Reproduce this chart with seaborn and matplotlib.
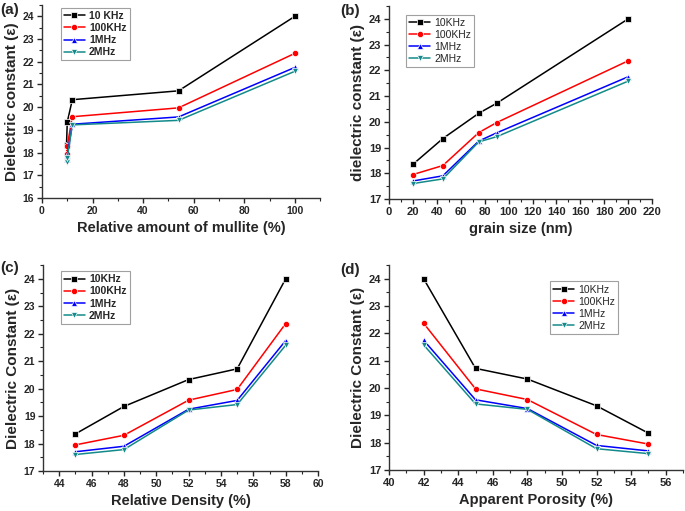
import matplotlib
matplotlib.use("Agg")
import matplotlib.pyplot as plt
from matplotlib.ticker import AutoMinorLocator, MultipleLocator
import seaborn as sns
import pandas as pd

# dielectric constant per sample, one list per frequency
freqs = ["10KHz", "100KHz", "1MHz", "2MHz"]
eps_10k = [18.35, 19.35, 20.33, 20.72, 24.0]
eps_100k = [17.95, 18.30, 19.58, 19.97, 22.37]
eps_1m = [17.70, 17.90, 19.25, 19.57, 21.75]
eps_2m = [17.60, 17.78, 19.22, 19.42, 21.58]

# x variables for the same five samples
mullite = [9.7, 10.0, 12.0, 54.0, 100.0]
grain_size = [20, 45, 75, 90, 200]
rel_density = [45, 48, 52, 55, 58]
porosity = [55, 52, 48, 45, 42]

rows = []
for f, vals in zip(freqs, [eps_10k, eps_100k, eps_1m, eps_2m]):
    for i, v in enumerate(vals):
        rows.append({"freq": f, "eps": v, "mullite": mullite[i], "grain": grain_size[i],
                     "density": rel_density[i], "porosity": porosity[i]})
df = pd.DataFrame(rows)

sns.set_style("white")
plt.rcParams["font.family"] = ["Liberation Sans", "DejaVu Sans"]

colors = ["#000000", "#ff0000", "#0000ff", "#138a8a"]
markers = ["s", "o", "^", "v"]

fig = plt.figure(figsize=(6.85, 5.11), dpi=100)

panels = [
    # key, xlabel, ylabel, rect, xlim, xstep, ylim, legend labels, legend anchor, bold legend, tag, tag pos, tick size
    ("mullite", "Relative amount of mullite (%)", "Dielectric constant (ε)",
     [0.0613, 0.6125, 0.406, 0.3777], (0, 110), 20, (16, 24.5),
     ["10 KHz", "100KHz", "1MHz", "2MHz"], (0.068, 0.985), True, "(a)", (0.0, 0.98), 7.5),
    ("grain", "grain size (nm)", "dielectric constant (ε)",
     [0.568, 0.6106, 0.384, 0.3777], (0, 220), 20, (17, 24.5),
     freqs, (0.065, 0.955), False, "(b)", (0.496, 0.978), 8),
    ("density", "Relative Density (%)", "Dielectric Constant (ε)",
     [0.0628, 0.0783, 0.4015, 0.403], (43, 60), 2, (17, 24.5),
     freqs, (0.065, 0.97), True, "(c)", (0.0, 0.475), 7.5),
    ("porosity", "Apparent Porosity (%)", "Dielectric Constant (ε)",
     [0.568, 0.0802, 0.429, 0.401], (40, 57), 2, (17, 24.5),
     freqs, (0.548, 0.92), False, "(d)", (0.496, 0.472), 8),
]

for key, xl, yl, rect, xlim, xstep, ylim, labels, anchor, bold_leg, tag, tagpos, tsize in panels:
    ax = fig.add_axes(rect)
    sns.lineplot(data=df, x=key, y="eps", hue="freq", style="freq", hue_order=freqs,
                 style_order=freqs, palette=colors, markers=markers, dashes=False,
                 estimator=None, ax=ax, linewidth=1.1, markersize=4.5,
                 markeredgewidth=0.5)
    ax.set_xlim(*xlim)
    ax.set_ylim(*ylim)
    ax.xaxis.set_major_locator(MultipleLocator(xstep))
    ax.yaxis.set_major_locator(MultipleLocator(1))
    ax.xaxis.set_minor_locator(AutoMinorLocator(2))
    ax.yaxis.set_minor_locator(AutoMinorLocator(2))
    ax.tick_params(which="major", direction="out", length=3.5, width=1,
                   bottom=True, left=True, labelsize=tsize, pad=2)
    ax.tick_params(which="minor", direction="out", length=2, width=0.8,
                   bottom=True, left=True)
    for t in ax.get_xticklabels() + ax.get_yticklabels():
        t.set_fontweight("bold")
    for s in ["top", "right"]:
        ax.spines[s].set_visible(False)
    for s in ["left", "bottom"]:
        ax.spines[s].set_color("#333333")
        ax.spines[s].set_linewidth(1)
    ax.set_xlabel(xl, fontsize=10.5, fontweight="bold", labelpad=4)
    ax.set_ylabel(yl, fontsize=11, fontweight="bold", labelpad=3)
    handles, _ = ax.get_legend_handles_labels()
    leg = ax.legend(handles[:4], labels, loc="upper left", bbox_to_anchor=anchor,
                    frameon=True, fancybox=False, edgecolor="#888888",
                    borderpad=0.3, labelspacing=0.2, handlelength=2.0,
                    handletextpad=0.4, borderaxespad=0,
                    prop={"weight": "bold" if bold_leg else "normal", "size": 7.5})
    leg.get_frame().set_linewidth(0.8)
    fig.text(tagpos[0], tagpos[1], tag, fontsize=11, fontweight="bold",
             ha="left", va="center")

fig.savefig("out.png", dpi=100)
